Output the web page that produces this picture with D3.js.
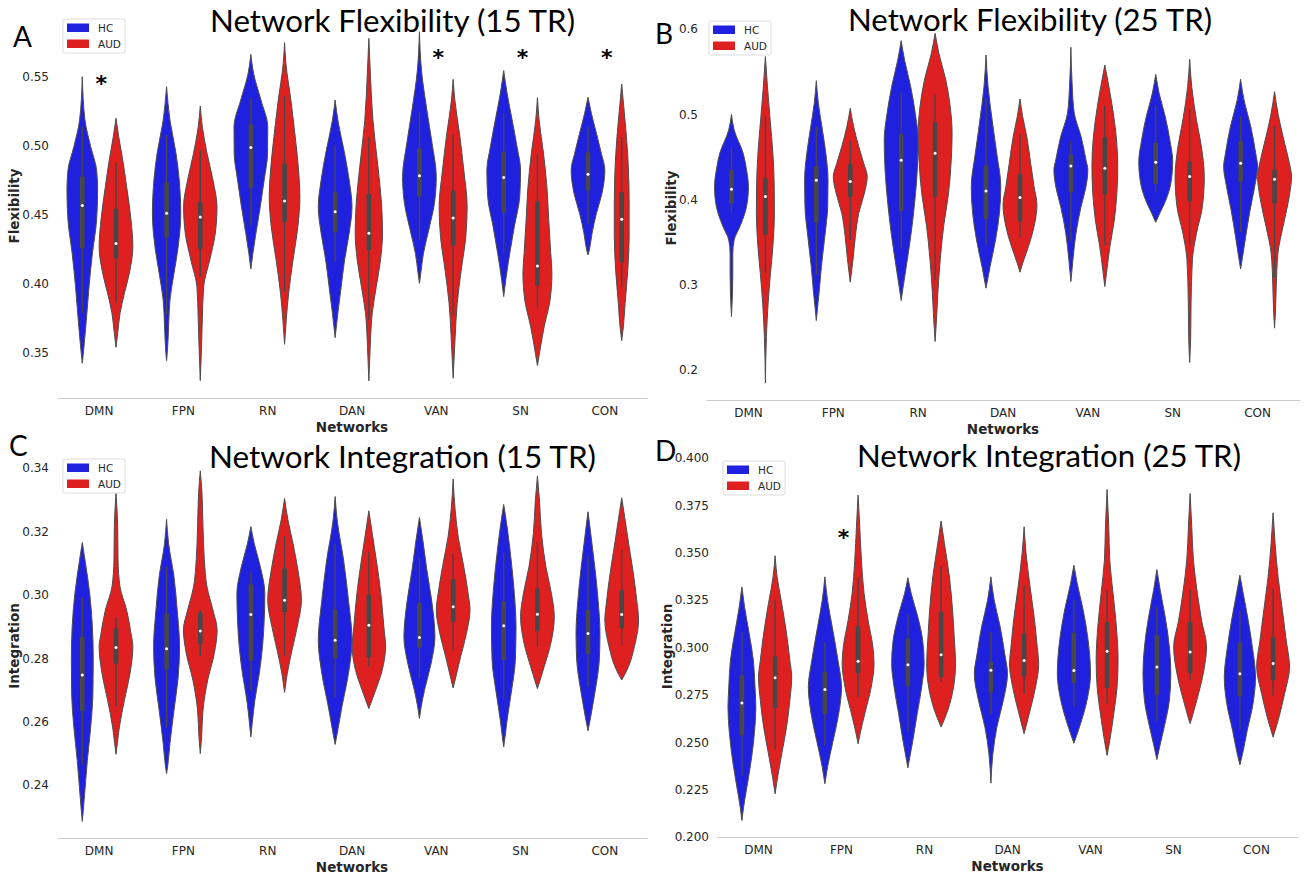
<!DOCTYPE html>
<html lang="en">
<head>
<meta charset="utf-8">
<script src="https://d3js.org/d3.v7.min.js"></script>
<style>
  body { margin: 0; background: #fff; }
  svg { display: block; background: #fff; }
  text { font-family: 'DejaVu Sans', sans-serif; }
  .tick text { font-size: 12px; fill: #262626; }
  .axis-title { font-size: 13.5px; font-weight: bold; fill: #262626; }
  .panel-title { font-family: Lato, 'Open Sans', sans-serif; font-size: 30px; fill: #000; }
  .panel-letter { font-family: Lato, 'Open Sans', sans-serif; font-size: 28px; fill: #000; }
  .violin { stroke: #4d4d4d; stroke-width: 1; }
  .legend text { font-size: 10.5px; fill: #262626; }
  .star { font-size: 22px; font-weight: bold; fill: #000; }
</style>
</head>
<body>
<div id="chart"></div>
<script>
var width = 1311, height = 879;

var networks = ["DMN", "FPN", "RN", "DAN", "VAN", "SN", "CON"];
var groups = ["HC", "AUD"];
var groupColors = ["#2020df", "#df2020"];

// one entry per network: lo/hi = violin tips,
// box = [whisker low, q1, median, q3, whisker high],
// dens = [value, relative half width]
var flex15HC = [
  {lo:0.3426, hi:0.5502, box:[0.379,0.4259,0.4568,0.4778,0.514], dens:[[0.5188,0.16],[0.4995,0.5],[0.4826,0.85],[0.4681,0.91],[0.4464,0.85],[0.4222,0.6],[0.3981,0.4],[0.3739,0.24],[0.3546,0.1]]},
  {lo:0.3445, hi:0.5430, box:[0.378,0.4338,0.4512,0.4737,0.508], dens:[[0.5188,0.2],[0.4947,0.56],[0.4754,0.75],[0.4512,0.84],[0.4271,0.69],[0.4078,0.44],[0.3884,0.2],[0.3691,0.12],[0.3498,0.04]]},
  {lo:0.4109, hi:0.5664, box:[0.4428,0.4698,0.4990,0.5157,0.5346], dens:[[0.5527,0.16],[0.5333,0.6],[0.5140,1.0],[0.4947,0.99],[0.4754,0.79],[0.4561,0.56],[0.4367,0.3],[0.4223,0.12]]},
  {lo:0.3611, hi:0.5333, box:[0.4162,0.4375,0.4524,0.4665,0.5007], dens:[[0.5188,0.16],[0.4947,0.56],[0.4754,0.83],[0.4561,1.0],[0.4367,0.83],[0.4174,0.56],[0.3981,0.36],[0.3788,0.16]]},
  {lo:0.4005, hi:0.5828, box:[0.4319,0.4633,0.4785,0.4983,0.5249], dens:[[0.5551,0.12],[0.5261,0.44],[0.5020,0.75],[0.4778,1.0],[0.4585,0.89],[0.4416,0.6],[0.4223,0.24],[0.4078,0.08]]},
  {lo:0.3909, hi:0.5546, box:[0.4222,0.4517,0.4771,0.4959,0.5237], dens:[[0.5382,0.2],[0.5188,0.5],[0.4995,0.79],[0.4826,1.0],[0.4633,0.95],[0.4416,0.63],[0.4223,0.36],[0.4029,0.12]]},
  {lo:0.4210, hi:0.5353, box:[0.4435,0.4677,0.4795,0.4954,0.5140], dens:[[0.5237,0.2],[0.5092,0.5],[0.4947,0.79],[0.4826,1.0],[0.4657,0.83],[0.4512,0.5],[0.4367,0.24],[0.4247,0.08]]}
];
var flex15AUD = [
  {lo:0.3541, hi:0.5201, box:[0.3860,0.4186,0.4293,0.4544,0.4879], dens:[[0.5068,0.16],[0.4899,0.4],[0.4706,0.63],[0.4464,0.89],[0.4271,1.0],[0.4078,0.79],[0.3933,0.5],[0.3788,0.24],[0.3643,0.1]]},
  {lo:0.3300, hi:0.5290, box:[0.4053,0.4256,0.4486,0.4592,0.4971], dens:[[0.5140,0.12],[0.4947,0.4],[0.4754,0.75],[0.4561,0.99],[0.4367,0.89],[0.4174,0.56],[0.3981,0.2],[0.3740,0.12],[0.3498,0.06]]},
  {lo:0.3563, hi:0.5749, box:[0.3945,0.4452,0.4602,0.4870,0.5362], dens:[[0.5599,0.08],[0.5309,0.4],[0.5068,0.63],[0.4826,0.83],[0.4633,0.91],[0.4416,0.79],[0.4174,0.5],[0.3933,0.24],[0.3740,0.1]]},
  {lo:0.3298, hi:0.5780, box:[0.3739,0.4247,0.4367,0.4652,0.5063], dens:[[0.5551,0.08],[0.5188,0.24],[0.4826,0.56],[0.4585,0.75],[0.4367,0.81],[0.4174,0.69],[0.3981,0.44],[0.3788,0.2],[0.3546,0.08]]},
  {lo:0.3317, hi:0.5483, box:[0.3771,0.4278,0.4479,0.4677,0.5080], dens:[[0.5333,0.1],[0.5068,0.4],[0.4826,0.63],[0.4561,0.83],[0.4343,0.75],[0.4102,0.48],[0.3860,0.24],[0.3619,0.12]]},
  {lo:0.3409, hi:0.5350, box:[0.3824,0.3988,0.4131,0.4602,0.4942], dens:[[0.5188,0.1],[0.4947,0.36],[0.4706,0.56],[0.4464,0.67],[0.4223,0.79],[0.4078,0.86],[0.3884,0.75],[0.3691,0.4],[0.3498,0.12]]},
  {lo:0.3590, hi:0.5449, box:[0.3976,0.4157,0.4469,0.4665,0.5063], dens:[[0.5285,0.12],[0.5068,0.28],[0.4826,0.4],[0.4585,0.44],[0.4343,0.44],[0.4102,0.36],[0.3860,0.2],[0.3691,0.1]]}
];

var flex25HC = [
  {lo:0.2627, hi:0.4999, box:[0.3847,0.3956,0.4120,0.4347,0.4613], dens:[[0.4816,0.16],[0.4542,0.69],[0.4347,0.89],[0.4151,1.0],[0.3917,0.89],[0.3683,0.5],[0.3526,0.16],[0.3370,0.08],[0.3135,0.08],[0.2901,0.06]]},
  {lo:0.2580, hi:0.5394, box:[0.3116,0.3729,0.4226,0.4386,0.4855], dens:[[0.5129,0.12],[0.4816,0.36],[0.4542,0.56],[0.4230,0.69],[0.3917,0.67],[0.3565,0.5],[0.3214,0.3],[0.2901,0.16],[0.2706,0.06]]},
  {lo:0.2815, hi:0.5863, box:[0.3421,0.3866,0.4460,0.4769,0.5257], dens:[[0.5637,0.2],[0.5324,0.56],[0.5011,0.83],[0.4699,1.0],[0.4347,0.95],[0.3956,0.79],[0.3565,0.56],[0.3214,0.3],[0.2979,0.12]]},
  {lo:0.2960, hi:0.5695, box:[0.3468,0.3772,0.4101,0.4398,0.5179], dens:[[0.5324,0.12],[0.4933,0.36],[0.4542,0.63],[0.4151,0.87],[0.3839,0.79],[0.3526,0.56],[0.3214,0.24]]},
  {lo:0.3038, hi:0.5785, box:[0.3514,0.4085,0.4394,0.4523,0.4691], dens:[[0.5324,0.08],[0.5011,0.2],[0.4738,0.6],[0.4464,0.89],[0.4347,1.0],[0.4151,0.89],[0.3917,0.6],[0.3604,0.3],[0.3292,0.12]]},
  {lo:0.3733, hi:0.5468, box:[0.4085,0.4183,0.4437,0.4667,0.5109], dens:[[0.5246,0.2],[0.4972,0.56],[0.4699,0.83],[0.4445,1.0],[0.4191,0.89],[0.3995,0.6],[0.3839,0.24]]},
  {lo:0.3186, hi:0.5410, box:[0.3616,0.4210,0.4425,0.4679,0.4980], dens:[[0.5168,0.2],[0.4855,0.6],[0.4542,0.89],[0.4386,1.0],[0.4151,0.83],[0.3878,0.56],[0.3565,0.3],[0.3331,0.12]]}
];
var flex25AUD = [
  {lo:0.1846, hi:0.5676, box:[0.3135,0.3585,0.4034,0.4249,0.4980], dens:[[0.5324,0.12],[0.4933,0.28],[0.4542,0.44],[0.4151,0.52],[0.3839,0.53],[0.3448,0.44],[0.3135,0.3],[0.2784,0.16],[0.2393,0.06]]},
  {lo:0.3030, hi:0.5070, box:[0.3526,0.4034,0.4210,0.4417,0.4691], dens:[[0.4855,0.2],[0.4621,0.5],[0.4425,0.79],[0.4269,1.0],[0.4073,0.83],[0.3839,0.5],[0.3565,0.3],[0.3292,0.16]]},
  {lo:0.2334, hi:0.5949, box:[0.3057,0.4034,0.4542,0.4906,0.5238], dens:[[0.5715,0.22],[0.5402,0.63],[0.5089,0.89],[0.4777,1.0],[0.4464,0.95],[0.4073,0.79],[0.3683,0.5],[0.3292,0.3],[0.2901,0.16],[0.2588,0.08]]},
  {lo:0.3147, hi:0.5179, box:[0.3558,0.3741,0.4023,0.4300,0.4769], dens:[[0.4972,0.16],[0.4738,0.4],[0.4425,0.63],[0.4151,0.83],[0.3937,1.0],[0.3683,0.83],[0.3448,0.5],[0.3253,0.16]]},
  {lo:0.2979, hi:0.5578, box:[0.3460,0.4062,0.4366,0.4730,0.5101], dens:[[0.5324,0.24],[0.5011,0.5],[0.4699,0.69],[0.4386,0.76],[0.4073,0.71],[0.3761,0.56],[0.3448,0.3],[0.3174,0.12]]},
  {lo:0.2088, hi:0.5644, box:[0.3460,0.3976,0.4269,0.4445,0.5070], dens:[[0.5324,0.12],[0.4933,0.4],[0.4620,0.69],[0.4269,0.86],[0.3917,0.75],[0.3604,0.4],[0.3292,0.16],[0.2784,0.08],[0.2393,0.06]]},
  {lo:0.2491, hi:0.5265, box:[0.3085,0.3956,0.4238,0.4347,0.4855], dens:[[0.5011,0.2],[0.4738,0.5],[0.4464,0.83],[0.4269,1.0],[0.3995,0.83],[0.3683,0.5],[0.3370,0.2],[0.2979,0.1],[0.2667,0.05]]}
];

var integ15HC = [
  {lo:0.2285, hi:0.3165, box:[0.2462,0.2634,0.2747,0.2867,0.2991], dens:[[0.3110,0.16],[0.3004,0.44],[0.2899,0.6],[0.2794,0.65],[0.2689,0.63],[0.2583,0.5],[0.2478,0.3],[0.2373,0.14],[0.2320,0.06]]},
  {lo:0.2436, hi:0.3238, box:[0.2583,0.2765,0.2830,0.2941,0.3089], dens:[[0.3162,0.12],[0.3057,0.44],[0.2952,0.63],[0.2836,0.77],[0.2741,0.69],[0.2636,0.44],[0.2531,0.2],[0.2457,0.06]]},
  {lo:0.2552, hi:0.3215, box:[0.2697,0.2792,0.2938,0.3033,0.3071], dens:[[0.3162,0.2],[0.3089,0.56],[0.3004,0.83],[0.2920,0.79],[0.2836,0.69],[0.2752,0.5],[0.2668,0.24],[0.2594,0.08]]},
  {lo:0.2528, hi:0.3310, box:[0.2676,0.2799,0.2857,0.2955,0.3162], dens:[[0.3236,0.12],[0.3110,0.5],[0.2983,0.79],[0.2857,1.0],[0.2752,0.79],[0.2646,0.4],[0.2562,0.12]]},
  {lo:0.2610, hi:0.3244, box:[0.2736,0.2834,0.2865,0.2975,0.3117], dens:[[0.3173,0.2],[0.3078,0.44],[0.2973,0.75],[0.2867,0.92],[0.2783,0.69],[0.2699,0.3],[0.2646,0.1]]},
  {lo:0.2520, hi:0.3285, box:[0.2670,0.2794,0.2902,0.2980,0.3136], dens:[[0.3215,0.2],[0.3110,0.44],[0.3004,0.63],[0.2899,0.73],[0.2794,0.69],[0.2689,0.44],[0.2604,0.2],[0.2552,0.08]]},
  {lo:0.2571, hi:0.3262, box:[0.2710,0.2813,0.2878,0.2952,0.3122], dens:[[0.3194,0.16],[0.3089,0.4],[0.2983,0.6],[0.2878,0.71],[0.2794,0.67],[0.2689,0.4],[0.2615,0.16]]}
];
var integ15AUD = [
  {lo:0.2497, hi:0.3320, box:[0.2646,0.2783,0.2834,0.2894,0.2929], dens:[[0.3215,0.1],[0.3110,0.12],[0.3025,0.24],[0.2952,0.63],[0.2878,0.89],[0.2836,1.0],[0.2752,0.83],[0.2668,0.5],[0.2583,0.2],[0.2531,0.08]]},
  {lo:0.2499, hi:0.3391, box:[0.2808,0.2846,0.2886,0.2943,0.2952], dens:[[0.3320,0.1],[0.3215,0.16],[0.3110,0.24],[0.3025,0.4],[0.2952,0.75],[0.2889,1.0],[0.2815,0.83],[0.2731,0.44],[0.2636,0.16],[0.2552,0.08]]},
  {lo:0.2692, hi:0.3304, box:[0.2808,0.2946,0.2983,0.3083,0.3185], dens:[[0.3236,0.2],[0.3162,0.5],[0.3078,0.79],[0.2983,1.0],[0.2899,0.75],[0.2825,0.44],[0.2752,0.16]]},
  {lo:0.2641, hi:0.3265, box:[0.2773,0.2804,0.2904,0.2999,0.3136], dens:[[0.3194,0.2],[0.3110,0.44],[0.3004,0.71],[0.2899,0.89],[0.2836,0.99],[0.2762,0.79],[0.2699,0.4]]},
  {lo:0.2706, hi:0.3365, box:[0.2823,0.2915,0.2962,0.3049,0.3131], dens:[[0.3267,0.12],[0.3183,0.3],[0.3089,0.63],[0.3004,0.89],[0.2952,1.0],[0.2878,0.79],[0.2804,0.44],[0.2741,0.16]]},
  {lo:0.2704, hi:0.3375, box:[0.2836,0.2885,0.2939,0.3020,0.3167], dens:[[0.3299,0.12],[0.3194,0.24],[0.3089,0.5],[0.3004,0.83],[0.2931,1.0],[0.2846,0.79],[0.2773,0.4],[0.2731,0.16]]},
  {lo:0.2731, hi:0.3306, box:[0.2841,0.2894,0.2938,0.3015,0.3141], dens:[[0.3236,0.2],[0.3152,0.44],[0.3067,0.69],[0.2983,0.89],[0.2920,1.0],[0.2836,0.75],[0.2773,0.4]]}
];

var integ25HC = [
  {lo:0.2087, hi:0.3320, box:[0.2325,0.2536,0.2707,0.2853,0.3082], dens:[[0.3214,0.16],[0.3073,0.44],[0.2932,0.69],[0.2791,0.79],[0.2686,0.84],[0.2545,0.75],[0.2404,0.56],[0.2263,0.3],[0.2157,0.1]]},
  {lo:0.2281, hi:0.3373, box:[0.2483,0.2650,0.2779,0.2871,0.3029], dens:[[0.3249,0.16],[0.3109,0.44],[0.2932,0.79],[0.2791,1.0],[0.2650,0.83],[0.2510,0.5],[0.2369,0.16]]},
  {lo:0.2365, hi:0.3368, box:[0.2554,0.2795,0.2909,0.3047,0.3175], dens:[[0.3285,0.2],[0.3161,0.6],[0.3038,0.89],[0.2915,0.98],[0.2791,0.83],[0.2650,0.56],[0.2510,0.3],[0.2404,0.08]]},
  {lo:0.2284, hi:0.3373, box:[0.2650,0.2762,0.2880,0.2924,0.3082], dens:[[0.3249,0.2],[0.3109,0.56],[0.2968,0.83],[0.2862,1.0],[0.2721,0.75],[0.2580,0.36],[0.2439,0.12]]},
  {lo:0.2495, hi:0.3434, box:[0.2686,0.2812,0.2879,0.3079,0.3249], dens:[[0.3338,0.2],[0.3197,0.56],[0.3056,0.83],[0.2862,1.0],[0.2721,0.79],[0.2598,0.4]]},
  {lo:0.2409, hi:0.3411, box:[0.2612,0.2751,0.2897,0.3064,0.3214], dens:[[0.3302,0.2],[0.3161,0.5],[0.3003,0.75],[0.2862,0.84],[0.2721,0.75],[0.2580,0.44],[0.2474,0.16]]},
  {lo:0.2381, hi:0.3382, box:[0.2566,0.2742,0.2862,0.3024,0.3197], dens:[[0.3285,0.2],[0.3144,0.5],[0.3003,0.75],[0.2844,0.94],[0.2703,0.79],[0.2562,0.44],[0.2439,0.16]]}
];
var integ25AUD = [
  {lo:0.2228, hi:0.3484, box:[0.2460,0.2680,0.2841,0.2953,0.3249], dens:[[0.3373,0.12],[0.3232,0.4],[0.3073,0.69],[0.2932,0.89],[0.2844,1.0],[0.2721,0.89],[0.2580,0.69],[0.2439,0.4],[0.2298,0.12]]},
  {lo:0.2492, hi:0.3804, box:[0.2739,0.2865,0.2927,0.3112,0.3369], dens:[[0.3637,0.1],[0.3461,0.2],[0.3285,0.36],[0.3144,0.6],[0.3003,0.89],[0.2915,0.96],[0.2791,0.79],[0.2650,0.4],[0.2545,0.12]]},
  {lo:0.2580, hi:0.3667, box:[0.2818,0.2844,0.2962,0.3188,0.3429], dens:[[0.3549,0.2],[0.3373,0.5],[0.3197,0.69],[0.3056,0.79],[0.2915,0.87],[0.2791,0.75],[0.2668,0.4]]},
  {lo:0.2545, hi:0.3637, box:[0.2756,0.2848,0.2932,0.3073,0.3329], dens:[[0.3496,0.12],[0.3320,0.36],[0.3144,0.63],[0.3003,0.79],[0.2915,0.88],[0.2791,0.69],[0.2668,0.36]]},
  {lo:0.2430, hi:0.3834, box:[0.2703,0.2786,0.2980,0.3135,0.3302], dens:[[0.3637,0.1],[0.3461,0.16],[0.3285,0.36],[0.3109,0.56],[0.2932,0.66],[0.2791,0.6],[0.2650,0.4],[0.2509,0.16]]},
  {lo:0.2598, hi:0.3813, box:[0.2827,0.2865,0.2976,0.3135,0.3306], dens:[[0.3637,0.1],[0.3461,0.2],[0.3285,0.44],[0.3144,0.69],[0.3003,0.99],[0.2862,0.79],[0.2721,0.4],[0.2633,0.12]]},
  {lo:0.2527, hi:0.3711, box:[0.2747,0.2827,0.2915,0.3056,0.3311], dens:[[0.3549,0.12],[0.3373,0.3],[0.3197,0.56],[0.3038,0.79],[0.2897,0.99],[0.2756,0.69],[0.2615,0.3]]}
];

var flex15Ticks = [0.35, 0.40, 0.45, 0.50, 0.55];
var flex25Ticks = [0.2, 0.3, 0.4, 0.5, 0.6];
var integ15Ticks = [0.24, 0.26, 0.28, 0.30, 0.32, 0.34];
var integ25Ticks = [0.200, 0.225, 0.250, 0.275, 0.300, 0.325, 0.350, 0.375, 0.400];

// significance markers: network and height of the star
var flex15Sig = [["DMN", 0.5486], ["VAN", 0.5674], ["SN", 0.5674], ["CON", 0.5674]];
var flex25Sig = [];
var integ15Sig = [];
var integ25Sig = [["FPN", 0.3604]];

// layout of the four panels
var panels = [
  {letter:"A", letterXY:[13,47], title:"Network Flexibility (15 TR)", titleBox:[210,575,32], yLabel:"Flexibility",
   series:[flex15HC, flex15AUD], ticks:flex15Ticks, fmt:".2f", sig:flex15Sig,
   xRange:[57,647], yRange:[353,77], axisY:398, top:14, legend:[63,19]},
  {letter:"B", letterXY:[655,44], title:"Network Flexibility (25 TR)", titleBox:[848,1212,31], yLabel:"Flexibility",
   series:[flex25HC, flex25AUD], ticks:flex25Ticks, fmt:".1f", sig:flex25Sig,
   xRange:[706,1300], yRange:[370,29], axisY:400, top:16, legend:[709,21]},
  {letter:"C", letterXY:[9,456], title:"Network Integration (15 TR)", titleBox:[209,596,468], yLabel:"Integration",
   series:[integ15HC, integ15AUD], ticks:integ15Ticks, fmt:".2f", sig:integ15Sig,
   xRange:[57,647], yRange:[785,468], axisY:838, top:454, legend:[63,459]},
  {letter:"D", letterXY:[655,461], title:"Network Integration (25 TR)", titleBox:[857,1241,467], yLabel:"Integration",
   series:[integ25HC, integ25AUD], ticks:integ25Ticks, fmt:".3f", sig:integ25Sig,
   xRange:[717,1298], yRange:[837,458], axisY:837, top:456, legend:[723,461]}
];

var svg = d3.select("#chart").append("svg")
  .attr("width", width)
  .attr("height", height);

panels.forEach(function(p) {
  var g = svg.append("g");

  var x = d3.scaleBand().domain(networks).range(p.xRange);
  var y = d3.scaleLinear()
    .domain([p.ticks[0], p.ticks[p.ticks.length - 1]])
    .range(p.yRange);

  var step = x.step();
  var hw = step * 0.2;   // max half width of one violin
  var offsets = [-step * 0.2, step * 0.2];

  // violins
  p.series.forEach(function(series, gi) {
    series.forEach(function(v, ni) {
      var cx = x(networks[ni]) + step / 2 + offsets[gi];
      var pts = [[v.hi, 0]].concat(v.dens, [[v.lo, 0]]);

      var area = d3.area()
        .curve(d3.curveMonotoneY)
        .y(function(d) { return y(d[0]); })
        .x0(function(d) { return cx - d[1] * hw; })
        .x1(function(d) { return cx + d[1] * hw; });

      g.append("path")
        .attr("class", "violin")
        .attr("d", area(pts))
        .attr("fill", groupColors[gi]);

      // inner box
      g.append("line")
        .attr("x1", cx).attr("x2", cx)
        .attr("y1", y(v.box[4])).attr("y2", y(v.box[0]))
        .attr("stroke", "#474747")
        .attr("stroke-width", 1.4);
      g.append("rect")
        .attr("x", cx - 2.3)
        .attr("width", 4.6)
        .attr("y", y(v.box[3]))
        .attr("height", y(v.box[1]) - y(v.box[3]))
        .attr("fill", "#474747");
      g.append("circle")
        .attr("cx", cx)
        .attr("cy", y(v.box[2]))
        .attr("r", 1.5)
        .attr("fill", "#fff");
    });
  });

  // x axis
  var xAxis = g.append("g")
    .attr("transform", "translate(0," + p.axisY + ")")
    .call(d3.axisBottom(x).tickSize(0).tickPadding(8.5));
  xAxis.select(".domain").attr("stroke", "#cccccc").attr("stroke-width", 1.2);
  xAxis.selectAll("text").attr("font-family", null).attr("font-size", null);

  // y axis (no spine)
  var yAxis = g.append("g")
    .attr("transform", "translate(" + p.xRange[0] + ",0)")
    .call(d3.axisLeft(y).tickValues(p.ticks).tickFormat(d3.format(p.fmt)).tickSize(0).tickPadding(8));
  yAxis.select(".domain").remove();
  yAxis.selectAll("text").attr("font-family", null).attr("font-size", null);

  var tickLeft = d3.min(yAxis.selectAll("text").nodes(), function(n) {
    return n.getBBox().x;
  }) + p.xRange[0];

  g.append("text")
    .attr("class", "axis-title")
    .attr("text-anchor", "middle")
    .attr("x", (p.xRange[0] + p.xRange[1]) / 2)
    .attr("y", p.axisY + 34)
    .text("Networks");

  g.append("text")
    .attr("class", "axis-title")
    .attr("text-anchor", "middle")
    .attr("transform", "translate(" + (tickLeft - 3) + "," + ((p.top + p.axisY) / 2) + ") rotate(-90)")
    .text(p.yLabel);

  // significance stars
  p.sig.forEach(function(s) {
    g.append("text")
      .attr("class", "star")
      .attr("text-anchor", "middle")
      .attr("x", x(s[0]) + step / 2 + 2)
      .attr("y", y(s[1]))
      .attr("dy", "0.55em")
      .text("*");
  });

  // legend
  var lg = g.append("g")
    .attr("class", "legend")
    .attr("transform", "translate(" + p.legend[0] + "," + p.legend[1] + ")");
  lg.append("rect")
    .attr("width", 62).attr("height", 34)
    .attr("rx", 2)
    .attr("fill", "#fff")
    .attr("stroke", "#dddddd")
    .attr("stroke-width", 1);
  groups.forEach(function(name, i) {
    lg.append("rect")
      .attr("x", 4).attr("y", 4.5 + i * 16)
      .attr("width", 22).attr("height", 8.5)
      .attr("fill", groupColors[i]);
    lg.append("text")
      .attr("x", 35).attr("y", 8.75 + i * 16)
      .attr("dy", "0.36em")
      .text(name);
  });

  // title and panel letter
  g.append("text")
    .attr("class", "panel-title")
    .attr("x", p.titleBox[0])
    .attr("y", p.titleBox[2])
    .attr("textLength", p.titleBox[1] - p.titleBox[0])
    .attr("lengthAdjust", "spacingAndGlyphs")
    .text(p.title);

  g.append("text")
    .attr("class", "panel-letter")
    .attr("x", p.letterXY[0])
    .attr("y", p.letterXY[1])
    .text(p.letter);
});
</script>
</body>
</html>
